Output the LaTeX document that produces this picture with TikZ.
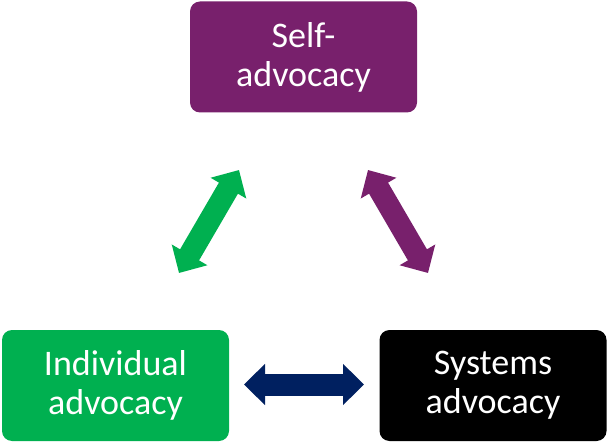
\documentclass[tikz,border=0pt]{standalone}
\usepackage{fontspec}
\setmainfont{Carlito}
\usetikzlibrary{arrows.meta}
\definecolor{boxpurple}{RGB}{120,32,108}
\definecolor{boxgreen}{RGB}{0,176,80}
\definecolor{arrownavy}{RGB}{0,32,96}
\tikzset{
  box/.style={rounded corners=10pt, minimum width=227pt, minimum height=111pt,
    inner sep=0pt, text=white, align=center,
    font=\fontsize{36}{39}\selectfont},
  dblarrow/.style={line width=22pt,
    {Triangle[length=21pt,width=40pt]}-{Triangle[length=21pt,width=40pt]}}
}
\begin{document}
\begin{tikzpicture}[x=1pt,y=-1pt]
\useasboundingbox (0,0) rectangle (607,443);
\node[box, fill=boxpurple] (self) at (303.5,57) {Self-\\advocacy};
\node[box, fill=boxgreen] (ind) at (115.5,385.5) {Individual\\advocacy};
\node[box, fill=black] (sys) at (493,385.5) {Systems\\advocacy};
\coordinate (g1) at (179,273);
\coordinate (g2) at (239,170);
\coordinate (p1) at (368,170);
\coordinate (p2) at (428,273);
\coordinate (n1) at (244,384.5);
\coordinate (n2) at (364,384.5);
\draw[dblarrow, draw=boxgreen, fill=boxgreen] (g1) -- (g2);
\draw[dblarrow, draw=boxpurple, fill=boxpurple] (p1) -- (p2);
\draw[dblarrow, draw=arrownavy, fill=arrownavy] (n1) -- (n2);
\end{tikzpicture}
\end{document}
